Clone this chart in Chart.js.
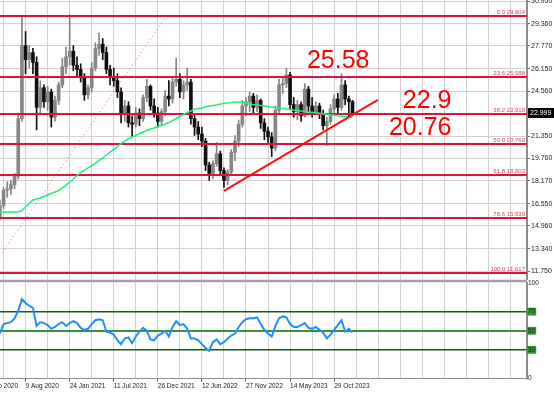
<!DOCTYPE html>
<html>
<head>
<meta charset="utf-8">
<script src="https://cdn.jsdelivr.net/npm/chart.js@4.4.1/dist/chart.umd.min.js"></script>
<style>
  html, body { margin: 0; padding: 0; background: #fff; overflow: hidden; width: 554px; height: 393px; position: relative; }
  #priceWrap { position: absolute; left: -24px; top: 0; width: 578px; height: 280px; }
  #rsiWrap { position: absolute; left: -24px; top: 279px; width: 578px; height: 114px; }
</style>
</head>
<body>
<div id="priceWrap"><canvas id="priceChart"></canvas></div>
<div id="rsiWrap"><canvas id="rsiChart"></canvas></div>
<script>
'use strict';

// two-week bars, slot 1 = 23 Feb 2020; first drawn bar sits in slot 6
const FIRST_SLOT = 6;
const SLOT_COUNT = 150;

const opens = [
  15.6, 16.4, 17.5, 17.6, 17.9, 18.5, 22.6, 27.8, 26.8, 27.3,
  26.6, 23.4, 24.8, 23.8, 24.5, 22.7, 23.9, 25.0, 26.3, 27.0,
  27.4, 26.4, 26.1, 25.5, 24.3, 24.8, 26.2, 27.6, 27.9, 27.3,
  26.1, 25.6, 25.3, 24.5, 23.0, 23.5, 22.3, 22.2, 23.0, 22.6,
  24.1, 24.9, 23.5, 23.0, 22.4, 23.1, 24.2, 24.0, 25.2, 25.4,
  24.5, 25.0, 25.2, 22.6, 22.0, 21.5, 21.0, 19.3, 18.7, 19.4,
  20.1, 18.9, 18.2, 18.8, 20.2, 21.0, 22.2, 23.5, 23.8, 24.2,
  23.4, 23.9, 22.3, 21.7, 21.3, 20.5, 23.2, 25.0, 25.1, 25.7,
  23.6, 23.1, 23.6, 22.8, 24.7, 23.5, 23.0, 23.5, 22.9, 22.1,
  22.4, 23.3, 24.0, 23.4, 25.0, 24.0, 23.8
];
const highs = [
  16.8, 17.7, 18.1, 18.2, 18.7, 23.0, 29.8, 28.8, 27.8, 27.6,
  27.0, 25.3, 25.0, 24.9, 24.7, 24.2, 25.2, 26.9, 27.7, 30.0,
  27.8, 27.0, 26.5, 25.8, 25.0, 26.6, 28.0, 28.7, 28.3, 27.7,
  26.4, 26.2, 25.8, 24.8, 23.9, 23.8, 22.8, 23.4, 23.3, 24.3,
  25.4, 25.0, 24.0, 23.4, 23.3, 24.6, 25.3, 25.5, 26.9, 25.8,
  25.3, 26.2, 25.4, 22.9, 22.4, 22.0, 21.2, 19.5, 19.6, 20.9,
  20.3, 19.1, 19.0, 20.4, 21.4, 22.5, 23.9, 24.1, 24.5, 24.4,
  24.3, 24.0, 22.6, 22.0, 21.6, 23.5, 25.4, 25.6, 26.2, 25.9,
  24.1, 23.9, 23.8, 25.1, 24.9, 24.1, 23.8, 23.7, 23.2, 22.7,
  23.6, 24.3, 24.4, 25.8, 25.3, 24.2, 23.9
];
const lows = [
  15.4, 16.2, 17.0, 17.2, 17.6, 18.3, 22.4, 25.8, 26.2, 25.8,
  21.8, 23.0, 23.4, 23.2, 22.0, 22.4, 23.6, 24.8, 25.8, 26.4,
  26.0, 25.6, 25.2, 23.9, 24.0, 24.5, 26.0, 27.1, 26.8, 25.8,
  25.0, 24.9, 24.1, 22.3, 22.4, 22.0, 21.3, 22.0, 22.1, 22.4,
  23.8, 23.2, 22.7, 22.0, 22.1, 22.8, 23.5, 23.7, 24.9, 24.1,
  24.0, 24.6, 22.2, 21.4, 21.1, 20.6, 18.9, 18.2, 18.3, 19.2,
  18.6, 17.7, 17.9, 18.6, 19.6, 20.6, 22.0, 22.8, 23.1, 23.0,
  23.1, 21.9, 21.1, 20.9, 19.9, 20.3, 23.0, 24.4, 24.8, 23.3,
  22.7, 22.5, 22.4, 22.7, 23.1, 22.7, 22.9, 22.6, 21.8, 20.7,
  22.2, 22.9, 23.0, 23.2, 23.6, 22.7, 22.9
];
const closes = [
  16.4, 17.5, 17.6, 17.9, 18.5, 22.6, 27.8, 26.8, 27.3, 26.6,
  23.4, 24.8, 23.8, 24.5, 22.7, 23.9, 25.0, 26.3, 27.0, 27.4,
  26.4, 26.1, 25.5, 24.3, 24.8, 26.2, 27.6, 27.9, 27.3, 26.1,
  25.6, 25.3, 24.5, 23.0, 23.5, 22.3, 22.2, 23.0, 22.6, 24.1,
  24.9, 23.5, 23.0, 22.4, 23.1, 24.2, 24.0, 25.2, 25.4, 24.5,
  25.0, 25.2, 22.6, 22.0, 21.5, 21.0, 19.3, 18.7, 19.4, 20.1,
  18.9, 18.2, 18.8, 20.2, 21.0, 22.2, 23.5, 23.8, 24.2, 23.4,
  23.9, 22.3, 21.7, 21.3, 20.5, 23.2, 25.0, 25.1, 25.7, 23.6,
  23.1, 23.6, 22.8, 24.7, 23.5, 23.0, 23.5, 22.9, 22.1, 22.4,
  23.3, 24.0, 23.4, 25.0, 24.0, 23.8, 23.0
];
const maValues = [
  15.95, 15.95, 15.95, 15.95, 15.95, 15.95, 16.06, 16.31, 16.56, 16.81,
  16.88, 16.95, 17.06, 17.16, 17.27, 17.38, 17.48, 17.66, 17.87, 18.09,
  18.30, 18.55, 18.76, 18.94, 19.09, 19.26, 19.44, 19.62, 19.80, 20.01,
  20.22, 20.40, 20.62, 20.83, 21.00, 21.18, 21.29, 21.40, 21.54, 21.65,
  21.75, 21.86, 21.93, 22.04, 22.11, 22.22, 22.32, 22.46, 22.61, 22.75,
  22.89, 23.04, 23.14, 23.28, 23.32, 23.36, 23.43, 23.50, 23.53, 23.57,
  23.64, 23.68, 23.71, 23.75, 23.78, 23.78, 23.75, 23.71, 23.64, 23.60,
  23.57, 23.53, 23.50, 23.46, 23.43, 23.39, 23.36, 23.32, 23.28, 23.25,
  23.21, 23.18, 23.14, 23.11, 23.07, 23.05, 23.01, 22.98, 22.94, 22.91,
  22.87, 22.84, 22.81, 22.79, 22.75, 22.71, 22.69
];
const rsiValues = [
  47, 57, 58, 59, 63, 71, 83, 79, 76, 74,
  55, 59, 58, 56, 52, 54, 57, 59, 55, 58,
  60, 58, 53, 51, 52, 57, 61, 62, 61, 49,
  48, 46, 40, 36, 42, 43, 37, 44, 49, 53,
  50, 41, 40, 45, 47, 50, 44, 54, 60, 56,
  57, 52, 42, 42, 40, 36, 32, 29, 38, 41,
  36, 38, 42, 45, 47, 54, 59, 62, 63, 63,
  64, 57, 51, 47, 44, 55, 63, 65, 64, 57,
  54, 54, 56, 58, 53, 52, 54, 51, 48, 42,
  46, 51, 56, 61, 49, 52, 48
];

const priceTicks = [30.950, 29.360, 27.770, 26.150, 24.560, 21.350, 19.760, 18.170, 16.550, 14.960, 13.340, 11.750];
const priceMin = 11.114;
const priceMax = 31.043;
const lastPrice = 22.999;

const fibRatios = [0.0, 23.6, 38.2, 50.0, 61.8, 78.6, 100.0];
const fibPrices = [29.904, 25.588, 22.918, 20.760, 18.603, 15.530, 11.617];
const fibAnchorSlots = [2.77, 51.36];
const fibAnchorPrices = [11.617, 29.904];
const trendSlots = [67.0, 108.9];
const trendPrices = [17.45, 23.93];

const noteTexts = ['25.58', '22.9', '20.76'];
const noteSlots = [89.6, 115.7, 111.9];
const notePrices = [26.20, 23.35, 21.43];

const dateTickSlots = [1, 13, 25, 37, 49, 61, 73, 85, 97];
const dateTickLabels = ['23 Feb 2020', '9 Aug 2020', '24 Jan 2021', '11 Jul 2021', '26 Dec 2021', '12 Jun 2022', '27 Nov 2022', '14 May 2023', '29 Oct 2023'];
const rsiTicks = [0, 30, 50, 70, 100];
const rsiLevels = [70, 50, 30];

Chart.defaults.font.family = '"Liberation Sans", Arial, sans-serif';
Chart.defaults.animation = false;

const slotOf = i => FIRST_SLOT + i;
const candleColor = i => closes[i] >= opens[i] ? '#858585' : '#101010';

const gridSlots = [];
for (let s = 1; s < SLOT_COUNT; s += 6) gridSlots.push(s);

const xBase = {
  type: 'linear', min: -0.5, max: SLOT_COUNT - 0.5, offset: false,
  afterBuildTicks: s => { s.ticks = gridSlots.map(v => ({ value: v })); },
};
const dotted = { color: '#d2d2d2', borderDash: [1, 2], offset: false };

const priceOverlay = {
  id: 'priceOverlay',
  afterDatasetDraw(chart, args) {
    if (args.index !== 1) return;
    const { ctx, chartArea: a, scales: { y } } = chart;
    ctx.save();
    ctx.strokeStyle = '#dc143c';
    ctx.lineWidth = 2;
    fibPrices.forEach(p => {
      const py = Math.round(y.getPixelForValue(p));
      ctx.beginPath(); ctx.moveTo(a.left, py); ctx.lineTo(a.right, py); ctx.stroke();
    });
    ctx.restore();
  },
  afterDraw(chart) {
    const { ctx, chartArea: a, scales: { x, y } } = chart;
    ctx.save();
    ctx.font = '6px "Liberation Sans"';
    ctx.fillStyle = '#e0405c';
    ctx.textAlign = 'right';
    ctx.textBaseline = 'alphabetic';
    fibPrices.forEach((p, i) => ctx.fillText(`${fibRatios[i].toFixed(1)} ${p.toFixed(3)}`, a.right - 2, y.getPixelForValue(p) - 2));

    ctx.font = '25px "Liberation Sans"';
    ctx.fillStyle = '#ff0000';
    ctx.textAlign = 'left';
    noteTexts.forEach((t, i) => ctx.fillText(t, x.getPixelForValue(noteSlots[i]), y.getPixelForValue(notePrices[i])));

    const py = y.getPixelForValue(lastPrice);
    ctx.fillStyle = '#000';
    ctx.fillRect(a.right + 1, py - 5, 27, 10);
    ctx.fillStyle = '#fff';
    ctx.font = '7px "Liberation Sans"';
    ctx.textBaseline = 'middle';
    ctx.fillText(lastPrice.toFixed(3), a.right + 3, py);
    ctx.restore();
  },
};

new Chart(document.getElementById('priceChart'), {
  type: 'bar',
  data: {
    datasets: [
      { type: 'bar', data: highs.map((h, i) => ({ x: slotOf(i), y: [lows[i], h] })), backgroundColor: c => candleColor(c.dataIndex), barThickness: 1, grouped: false, order: 4 },
      { type: 'bar', data: opens.map((o, i) => ({ x: slotOf(i), y: [o, closes[i]] })), backgroundColor: c => candleColor(c.dataIndex), barThickness: 3, grouped: false, order: 3 },
      { type: 'line', data: maValues.map((v, i) => ({ x: slotOf(i), y: v })), borderColor: '#1ef07a', borderWidth: 1.5, pointRadius: 0, order: 1 },
      { type: 'line', data: trendSlots.map((s, i) => ({ x: s, y: trendPrices[i] })), borderColor: '#ff1010', borderWidth: 2, pointRadius: 0, order: 0 },
      { type: 'line', data: fibAnchorSlots.map((s, i) => ({ x: s, y: fibAnchorPrices[i] })), borderColor: 'rgba(255,70,70,0.9)', borderWidth: 1, borderDash: [1, 3], pointRadius: 0, order: 2 },
    ],
  },
  options: {
    responsive: true, maintainAspectRatio: false,
    layout: { padding: 0 },
    plugins: { legend: { display: false }, tooltip: { enabled: false } },
    scales: {
      x: {
        ...xBase,
        ticks: { display: false },
        grid: { ...dotted, drawTicks: false },
        border: { display: false },
        afterFit: s => { s.height = 0; s.paddingLeft = 0; s.paddingRight = 0; },
      },
      y: {
        type: 'linear', position: 'right', min: priceMin, max: priceMax, beginAtZero: false,
        afterBuildTicks: s => { s.ticks = priceTicks.map(v => ({ value: v })); },
        afterFit: s => { s.width = 27; s.paddingTop = 0; s.paddingBottom = 0; },
        ticks: { callback: v => v.toFixed(3), font: { size: 7 }, color: '#222', padding: 1 },
        grid: { ...dotted, tickLength: 3, tickColor: '#777' },
        border: { color: '#8c8c8c', width: 2 },
      },
    },
  },
  plugins: [priceOverlay],
});

const rsiOverlay = {
  id: 'rsiOverlay',
  beforeDraw(chart) {
    const { ctx, chartArea: a } = chart;
    ctx.save();
    ctx.strokeStyle = '#a0a0a0';
    ctx.lineWidth = 2.5;
    ctx.beginPath(); ctx.moveTo(0, a.top - 2); ctx.lineTo(a.right, a.top - 2); ctx.stroke();
    ctx.restore();
  },
};

const levelColor = v => v === 50 ? '#3b8e3b' : (v === 70 || v === 30) ? '#0a640a' : 'transparent';

new Chart(document.getElementById('rsiChart'), {
  type: 'line',
  data: {
    datasets: [
      { data: rsiValues.map((v, i) => ({ x: slotOf(i), y: v })), borderColor: '#1e90ff', borderWidth: 2, pointRadius: 0 },
    ],
  },
  options: {
    responsive: true, maintainAspectRatio: false,
    layout: { padding: { top: 4, left: 0, right: 0, bottom: 0 } },
    plugins: { legend: { display: false }, tooltip: { enabled: false } },
    scales: {
      x: {
        ...xBase,
        ticks: {
          autoSkip: false, maxRotation: 0, minRotation: 0, align: 'start', padding: 1,
          font: { size: 6.5 }, color: '#222',
          callback: v => { const k = dateTickSlots.indexOf(v); return k >= 0 ? dateTickLabels[k] : ''; },
        },
        grid: { ...dotted, tickLength: 3, tickColor: c => (c.tick && dateTickSlots.includes(c.tick.value)) ? '#555' : 'transparent', tickBorderDash: [] },
        border: { color: '#8c8c8c', width: 1 },
        afterFit: s => { s.height = 14.5; s.paddingLeft = 0; s.paddingRight = 0; },
      },
      y: {
        type: 'linear', position: 'right', min: 0, max: 100,
        afterBuildTicks: s => { s.ticks = rsiTicks.map(v => ({ value: v })); },
        afterFit: s => { s.width = 27; s.paddingTop = 0; s.paddingBottom = 0; },
        ticks: {
          font: { size: 6.5 }, color: '#222', padding: 1,
          showLabelBackdrop: c => !!c.tick && rsiLevels.includes(c.tick.value),
          backdropColor: '#2f9a2f', backdropPadding: { x: 1, y: 0 },
        },
        grid: {
          color: c => c.tick ? levelColor(c.tick.value) : 'transparent',
          lineWidth: c => (c.tick && c.tick.value === 50) ? 2 : 1.5,
          drawTicks: false,
        },
        border: { color: '#8c8c8c', width: 2 },
      },
    },
  },
  plugins: [rsiOverlay],
});
</script>
</body>
</html>
